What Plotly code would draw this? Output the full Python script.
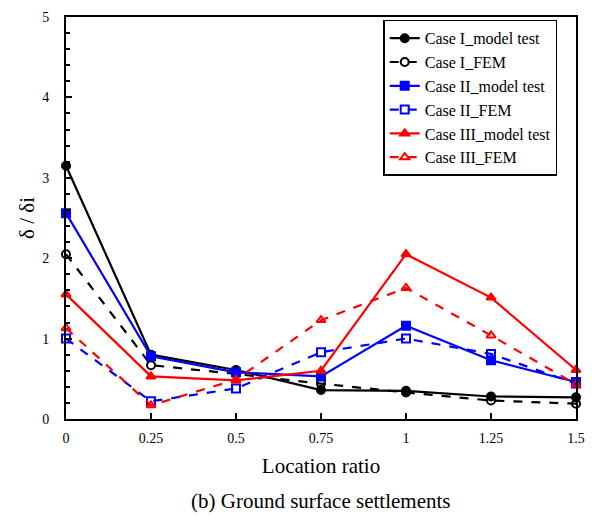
import plotly.graph_objects as go

x_ratio = [0, 0.25, 0.5, 0.75, 1.0, 1.25, 1.5]
case1_model = [3.15, 0.80, 0.61, 0.36, 0.35, 0.28, 0.27]
case1_fem = [2.05, 0.67, 0.56, 0.44, 0.33, 0.23, 0.19]
case2_model = [2.56, 0.78, 0.58, 0.53, 1.16, 0.73, 0.46]
case2_fem = [1.00, 0.22, 0.38, 0.83, 1.00, 0.81, 0.44]
case3_model = [1.55, 0.53, 0.48, 0.60, 2.05, 1.51, 0.61]
case3_fem = [1.13, 0.17, 0.49, 1.23, 1.63, 1.04, 0.43]
x_ticks = [0, 0.25, 0.5, 0.75, 1, 1.25, 1.5]
x_tick_text = ["0", "0.25", "0.5", "0.75", "1", "1.25", "1.5"]
y_ticks = [0, 1, 2, 3, 4, 5]

series = [
    ("Case I_model test", case1_model, "black", "solid", "circle"),
    ("Case I_FEM", case1_fem, "black", "dash", "circle-open"),
    ("Case II_model test", case2_model, "#0000FF", "solid", "square"),
    ("Case II_FEM", case2_fem, "#0000FF", "dash", "square-open"),
    ("Case III_model test", case3_model, "#FF0000", "solid", "triangle-up"),
    ("Case III_FEM", case3_fem, "#FF0000", "dash", "triangle-up-open"),
]

fig = go.Figure()
for name, vals, col, dash, sym in series:
    fig.add_trace(go.Scatter(
        x=x_ratio, y=vals, name=name, mode="lines+markers", cliponaxis=False,
        line=dict(color=col, width=2.2, dash=dash),
        marker=dict(symbol=sym, size=8, color=col, line=dict(color=col, width=2)),
    ))

font = "Liberation Serif, Times New Roman, serif"
fig.update_layout(
    width=593, height=518,
    margin=dict(l=66, r=17, t=17, b=99, autoexpand=False),
    plot_bgcolor="white", paper_bgcolor="white",
    font=dict(family=font, size=14, color="black"),
    showlegend=True,
    legend=dict(x=0.622, y=0.993, xanchor="left", yanchor="top",
                bordercolor="black", borderwidth=1.5, bgcolor="white",
                font=dict(family=font, size=16, color="black"),
                tracegroupgap=0, itemwidth=30),
    xaxis=dict(range=[0, 1.5], tickvals=x_ticks, ticktext=x_tick_text,
               ticks="inside", ticklen=6, tickwidth=1.5, tickcolor="black",
               showline=True, linecolor="black", linewidth=2, mirror=True,
               showgrid=False, zeroline=False, automargin=False,
               ticklabelstandoff=5,
               title=dict(text="Location ratio", font=dict(family=font, size=21), standoff=14),
               tickfont=dict(family=font, size=14)),
    yaxis=dict(range=[0, 5], tickvals=y_ticks,
               ticks="inside", ticklen=6, tickwidth=1.5, tickcolor="black",
               showline=True, linecolor="black", linewidth=2, mirror=True,
               showgrid=False, zeroline=False, automargin=False,
               ticklabelstandoff=12,
               minor=dict(dtick=0.2, ticks="inside", ticklen=4, tickwidth=1.5, tickcolor="black"),
               title=dict(text="δ / δi", font=dict(family=font, size=21), standoff=2),
               tickfont=dict(family=font, size=14)),
)
fig.add_annotation(text="(b) Ground surface settlements", xref="paper", yref="paper",
                   x=0.5, y=-0.168, xanchor="center", yanchor="top", showarrow=False,
                   font=dict(family=font, size=21, color="black"))
fig.write_html("out.html", config={"displayModeBar": False},
               post_script="document.body.style.margin='0';document.body.style.overflow='hidden';")
